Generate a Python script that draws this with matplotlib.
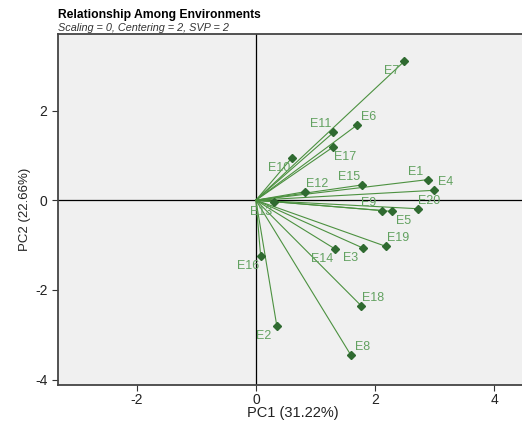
import matplotlib
matplotlib.use('Agg')
import matplotlib.pyplot as plt

plt.rcParams['font.family'] = ['Liberation Sans', 'DejaVu Sans']
plt.rcParams['axes.unicode_minus'] = False

envs = ['E1', 'E2', 'E3', 'E4', 'E5', 'E6', 'E7', 'E8', 'E9', 'E10',
        'E11', 'E12', 'E13', 'E14', 'E15', 'E16', 'E17', 'E18', 'E19', 'E20']
pc1 = [2.89, 0.35, 1.80, 2.98, 2.28, 1.69, 2.49, 1.59, 2.11, 0.60,
       1.30, 0.83, 0.31, 1.33, 1.78, 0.08, 1.30, 1.77, 2.18, 2.71]
pc2 = [0.46, -2.80, -1.07, 0.22, -0.25, 1.67, 3.10, -3.45, -0.23, 0.94,
       1.51, 0.19, -0.03, -1.09, 0.34, -1.25, 1.19, -2.36, -1.03, -0.19]

title = 'Relationship Among Environments'
subtitle = 'Scaling = 0, Centering = 2, SVP = 2'
xlabel = 'PC1 (31.22%)'
ylabel = 'PC2 (22.66%)'
xticks = [-2, 0, 2, 4]
yticks = [-4, -2, 0, 2]

# label placement relative to the point (layout only)
label_side = {'E1': 'ul', 'E2': 'll', 'E3': 'll', 'E4': 'ur', 'E5': 'lr',
              'E6': 'ur', 'E7': 'll', 'E8': 'ur', 'E9': 'ul', 'E10': 'll',
              'E11': 'ul', 'E12': 'ur', 'E13': 'll', 'E14': 'll', 'E15': 'ul',
              'E16': 'll', 'E17': 'lr', 'E18': 'ur', 'E19': 'ur', 'E20': 'ur'}
side_offset = {'ul': (-13, 8), 'ur': (12, 8), 'll': (-13, -10), 'lr': (12, -10)}

fig = plt.figure(figsize=(5.22, 4.23), dpi=100)
ax = fig.add_axes([0.111, 0.090, 0.899, 0.830])
ax.set_facecolor('#f0f0f0')

ax.set_xlim(-3.32, 4.55)
ax.set_ylim(-4.12, 3.71)

ax.axhline(0, color='black', lw=0.9, zorder=1)
ax.axvline(0, color='black', lw=0.9, zorder=1)

line_col = '#4c9140'
pt_col = '#2f6a30'
lab_col = '#62a160'

for name, x, y in zip(envs, pc1, pc2):
    ax.plot([0, x], [0, y], color=line_col, lw=0.8, zorder=2)
for name, x, y in zip(envs, pc1, pc2):
    ax.plot([x], [y], marker='D', ms=4.5, color=pt_col, mec=pt_col, zorder=3)
    dx, dy = side_offset[label_side[name]]
    ax.annotate(name, (x, y), xytext=(dx, dy), textcoords='offset pixels',
                ha='center', va='center', fontsize=9, color=lab_col, zorder=4)

ax.set_xticks(xticks)
ax.set_yticks(yticks)
ax.tick_params(axis='both', labelsize=10, length=4, width=0.8, colors='#333333',
               labelcolor='#222222')
ax.tick_params(axis='x', pad=2)
for s in ['left', 'bottom', 'top']:
    ax.spines[s].set_color('#444444')
    ax.spines[s].set_linewidth(1.3)
ax.spines['right'].set_visible(False)

ax.set_xlabel(xlabel, fontsize=10.5, color='#222222', labelpad=-1)
ax.set_ylabel(ylabel, fontsize=9.5, color='#222222', labelpad=3)

fig.text(0.111, 0.950, title, fontsize=8.7, fontweight='bold', ha='left', va='bottom')
fig.text(0.111, 0.921, subtitle, fontsize=7.8, style='italic', ha='left', va='bottom',
         color='#333333')

fig.savefig('out.png', dpi=100)
